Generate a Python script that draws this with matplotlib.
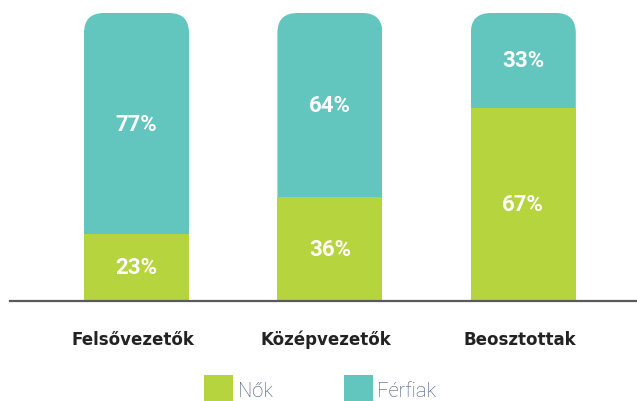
import matplotlib
matplotlib.use('Agg')
import matplotlib.pyplot as plt
from matplotlib.patches import FancyBboxPatch, Rectangle
from matplotlib.transforms import blended_transform_factory

categories = ['Felsővezetők', 'Középvezetők', 'Beosztottak']
nok = [23, 36, 67]
ferfiak = [77, 64, 33]
legend_labels = ['Nők', 'Férfiak']

GREEN = '#B6D43E'
TEAL = '#62C5BE'
W, H = 637, 402
fig = plt.figure(figsize=(W / 100, H / 100), dpi=100)
fig.patch.set_facecolor('white')


def fx(px):
    return px / W


def fy(py):
    return 1 - py / H


ax_left, ax_right, ax_top, ax_bot = 10, 637, 14, 301.5
ax = fig.add_axes([fx(ax_left), fy(ax_bot), fx(ax_right - ax_left), (ax_bot - ax_top) / H])
px_per_x = 193.4
x0 = -126.5 / px_per_x
ax.set_xlim(x0, x0 + (ax_right - ax_left) / px_per_x)
ax.set_ylim(0, 100)
xs = list(range(len(categories)))
bw = 105 / px_per_x

b1 = ax.bar(xs, nok, width=bw, color=GREEN, zorder=2, linewidth=0)
b2 = ax.bar(xs, ferfiak, bottom=nok, width=bw, color=TEAL, zorder=2, linewidth=0)

r_px = 20
rx = r_px / px_per_x
ry = r_px * 100 / (ax_bot - ax_top)
for rect in b2:
    x = rect.get_x()
    w = rect.get_width()
    top = rect.get_y() + rect.get_height()
    clip = FancyBboxPatch((x, -50), w, top + 50,
                          boxstyle=f'round,pad=0,rounding_size={rx}',
                          mutation_aspect=ry / rx, transform=ax.transData)
    rect.set_clip_path(clip)

lab_font = dict(family='Roboto', fontweight='bold', color='white', fontsize=16)
for i in xs:
    ax.text(i, nok[i] / 2, f'{nok[i]}%', ha='center', va='center', **lab_font, zorder=3)
    ax.text(i, nok[i] + ferfiak[i] / 2, f'{ferfiak[i]}%', ha='center', va='center', **lab_font, zorder=3)

for s in ['top', 'left', 'right']:
    ax.spines[s].set_visible(False)
ax.spines['bottom'].set_color('#5a5a5a')
ax.spines['bottom'].set_linewidth(1.6)
ax.spines['bottom'].set_zorder(4)
ax.set_xticks([])
ax.set_yticks([])

tr = blended_transform_factory(ax.transData, fig.transFigure)
for i, c in enumerate(categories):
    ax.text(i - 0.02, fy(345), c, transform=tr, ha='center', va='baseline',
            family='DejaVu Sans', fontweight='bold', fontsize=12, color='#222222')

# legend
leg = [(204, GREEN, 238), (344, TEAL, 377)]
for (sx, col, tx), lab in zip(leg, legend_labels):
    fig.add_artist(Rectangle((fx(sx), fy(406)), fx(29), (406 - 376) / H,
                             transform=fig.transFigure, color=col, linewidth=0))
    fig.text(fx(tx), fy(397), lab, ha='left', va='baseline', family='Roboto',
             fontweight='light', fontsize=14.5, color='#3C5280')

fig.savefig('out.png', dpi=100, facecolor='white')
